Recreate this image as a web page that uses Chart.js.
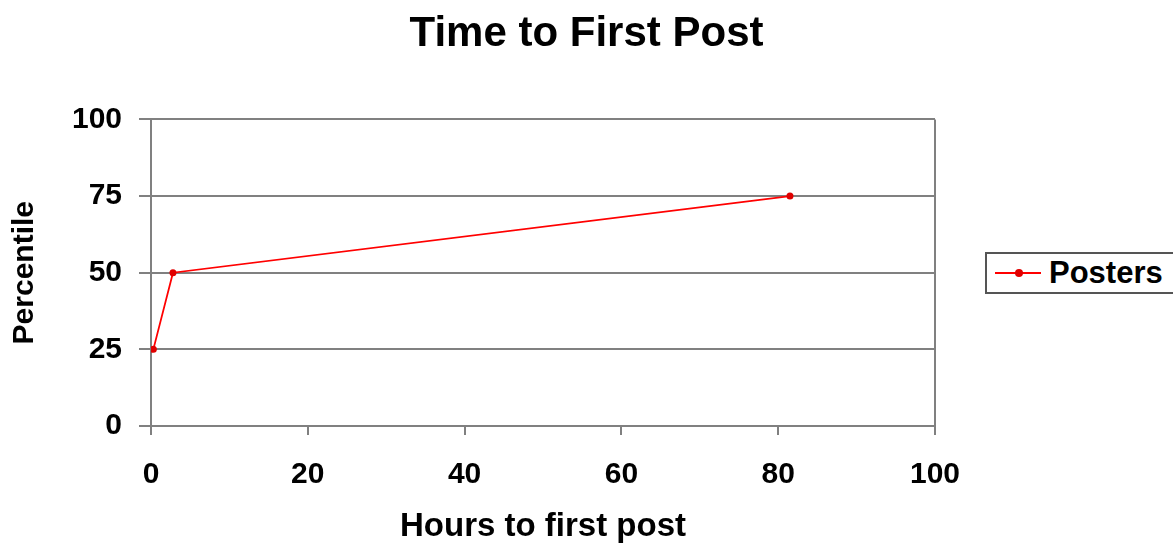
<!DOCTYPE html>
<html lang="en">

<head>
    <meta charset="UTF-8">
    <title>Time to First Post</title>
    <script src="https://cdn.jsdelivr.net/npm/chart.js@4.4.0/dist/chart.umd.min.js"></script>
    <style>
        html, body { margin: 0; padding: 0; background: #fff; overflow: hidden; }
        #wrap { position: relative; width: 1173px; height: 543px; }
        #legend {
            position: absolute; left: 985px; top: 252px; width: 230px; height: 42px;
            border: 2px solid #555; box-sizing: border-box; background: #fff;
            font: bold 31px "Liberation Sans", Arial, sans-serif; color: #000;
            white-space: nowrap;
        }
        #legend .swatch { position: absolute; left: 8px; top: 18px; width: 46px; height: 2px; background: #ff0000; }
        #legend .dot { position: absolute; left: 28px; top: 15px; width: 8px; height: 8px; border-radius: 50%; background: #e00000; }
        #legend .text { position: absolute; left: 62px; top: 1px; line-height: 36px; }
    </style>
</head>

<body>
    <div id="wrap">
        <canvas id="chart"></canvas>
        <div id="legend"><span class="swatch"></span><span class="dot"></span><span class="text">Posters</span></div>
    </div>
    <script>
        // hours to first post vs percentile
        const seriesName = "Posters"
        const hours = [0.3, 2.8, 81.5]
        const percentile = [25, 50, 75]
        const xTicks = [0, 20, 40, 60, 80, 100]
        const yTicks = [0, 25, 50, 75, 100]

        const FONT = '"Liberation Sans", Arial, sans-serif'
        const GRID = '#808080'

        const points = hours.map((h, i) => ({ x: h, y: percentile[i] }))

        new Chart(document.getElementById('chart').getContext('2d'), {
            type: 'line',
            data: {
                datasets: [{
                    label: seriesName,
                    data: points,
                    borderColor: '#ff0000',
                    backgroundColor: '#e00000',
                    borderWidth: 1.8,
                    pointRadius: 3.5,
                    pointBorderWidth: 0,
                    tension: 0
                }]
            },
            options: {
                responsive: true,
                maintainAspectRatio: false,
                animation: false,
                layout: { padding: 0 },
                plugins: {
                    legend: { display: false },
                    tooltip: { enabled: false },
                    title: {
                        display: true,
                        text: 'Time to First Post',
                        color: '#000',
                        font: { family: FONT, size: 42, weight: 'bold' },
                        padding: { top: 9, bottom: 60 }
                    }
                },
                scales: {
                    x: {
                        type: 'linear',
                        min: xTicks[0],
                        max: xTicks[xTicks.length - 1],
                        afterBuildTicks: (s) => { s.ticks = xTicks.map(v => ({ value: v })) },
                        afterFit: (s) => { s.height = 117 },
                        border: { display: true, color: GRID, width: 2 },
                        grid: {
                            drawOnChartArea: true,
                            color: (ctx) => ctx.tick && ctx.tick.value === 100 ? GRID : 'rgba(0,0,0,0)',
                            tickColor: GRID,
                            lineWidth: 2,
                            tickLength: 9
                        },
                        ticks: {
                            color: '#000',
                            padding: 22,
                            font: { family: FONT, size: 30, weight: 'bold' }
                        },
                        title: {
                            display: true,
                            text: 'Hours to first post',
                            color: '#000',
                            font: { family: FONT, size: 33, weight: 'bold' },
                            padding: { top: 0, bottom: -4 }
                        }
                    },
                    y: {
                        min: yTicks[0],
                        max: yTicks[yTicks.length - 1],
                        afterBuildTicks: (s) => { s.ticks = yTicks.map(v => ({ value: v })) },
                        afterFit: (s) => { s.width = 151 },
                        border: { display: true, color: GRID, width: 2 },
                        grid: {
                            color: GRID,
                            tickColor: GRID,
                            lineWidth: 2,
                            tickLength: 12
                        },
                        ticks: {
                            color: '#000',
                            padding: 17,
                            font: { family: FONT, size: 30, weight: 'bold' }
                        },
                        title: {
                            display: true,
                            text: 'Percentile',
                            color: '#000',
                            font: { family: FONT, size: 30, weight: 'bold' },
                            padding: { top: 7, bottom: 0 }
                        }
                    },
                    // empty right-hand box that keeps room for the legend
                    // without moving the centred title
                    side: {
                        position: 'right',
                        display: true,
                        afterFit: (s) => { s.width = 238 },
                        grid: { display: false },
                        border: { display: false },
                        ticks: { display: false }
                    }
                }
            }
        });
    </script>
</body>

</html>
